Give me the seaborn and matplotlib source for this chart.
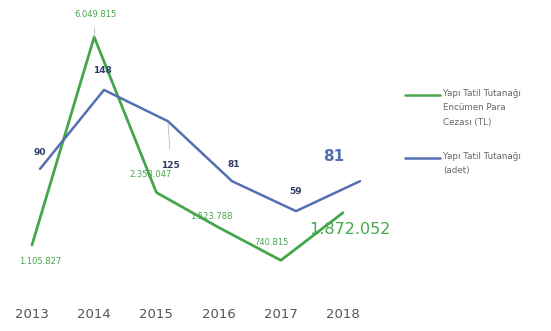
import matplotlib
matplotlib.use("Agg")
import matplotlib.pyplot as plt
from matplotlib.lines import Line2D
import seaborn as sns

# data
years = [2013, 2014, 2015, 2016, 2017, 2018]
fines_tl = [1105827, 6049815, 2353047, 1523788, 740815, 1872052]
fine_labels = ["1.105.827", "6.049.815", "2.353.047", "1.523.788", "740.815", "1.872.052"]
counts = [90, 148, 125, 81, 59, 81]
legend_fines = "Yapı Tatil Tutanağı\nEncümen Para\nCezası (TL)"
legend_counts = "Yapı Tatil Tutanağı\n(adet)"

green = "#46a64c"
blue = "#5470b0"
navy = "#2e3d63"

sns.set_style("white")
plt.rcParams["font.family"] = ["DejaVu Sans"]

W, H = 551, 331
fig = plt.figure(figsize=(W / 100, H / 100), dpi=100)

bottom = (H - 291.5) / H
height = 271.5 / H

# green series (TL)
ax = fig.add_axes([0, bottom, 1, height])
ax.patch.set_alpha(0)
sns.lineplot(x=years, y=fines_tl, ax=ax, color=green, linewidth=2)
ax.set_xlim(2013 - 32 / 62.2, 2013 + 519 / 62.2)
ax.set_ylim(0, 271.5 / 42.07 * 1e6)

# blue series (adet), drawn on its own axes
ax2 = fig.add_axes([0, bottom, 1, height])
ax2.patch.set_alpha(0)
sns.lineplot(x=years, y=counts, ax=ax2, color=blue, linewidth=1.8)
ax2.set_xlim(2013 - 40 / 64, 2013 + 511 / 64)
ax2.set_ylim(0, 271.5 / 1.362)

for a in (ax, ax2):
    sns.despine(ax=a, left=True, bottom=True, right=True, top=True)
    a.set_yticks([])
    a.set_xlabel("")
    a.set_ylabel("")
ax2.set_xticks([])

ax.set_xticks(years)
ax.set_xticklabels([str(y) for y in years], fontsize=9.5, color="#555555")
ax.tick_params(axis="x", length=0, pad=12)

# green labels (offsets in points)
g_off = [(6, -12), (1, 16), (-4, 13), (-5, 8), (-7, 13), (5, -12)]
for i, (x, y) in enumerate(zip(years, fines_tl)):
    big = i == len(years) - 1
    kw = {}
    if i == 1:
        kw["arrowprops"] = dict(arrowstyle="-", color="#bbbbbb", lw=0.6, shrinkA=4, shrinkB=0)
    ax.annotate(fine_labels[i], (x, y), xytext=g_off[i], textcoords="offset points",
                ha="center", va="center", color=green,
                fontsize=11.5 if big else 6, **kw)

# blue labels
b_off = [(0, 12), (-1, 14), (2, -32), (1, 12), (0, 14), (-19, 18)]
for i, (x, y) in enumerate(zip(years, counts)):
    big = i == len(years) - 1
    kw = {}
    if i == 2:
        kw["arrowprops"] = dict(arrowstyle="-", color="#bbbbbb", lw=0.6, shrinkA=6, shrinkB=1)
    ax2.annotate(str(y), (x, y), xytext=b_off[i], textcoords="offset points",
                 ha="center", va="center", fontweight="bold",
                 color=blue if big else navy, fontsize=11 if big else 6.5, **kw)

# legend on the right
for ypx, col, txt in [(95, green, legend_fines), (158, blue, legend_counts)]:
    fig.add_artist(Line2D([405 / W, 440 / W], [1 - ypx / H, 1 - ypx / H],
                          color=col, linewidth=1.8, transform=fig.transFigure))
    fig.text(443 / W, 1 - (ypx - 6) / H, txt, fontsize=6.3, color="#666666",
             va="top", ha="left", linespacing=1.75)

fig.savefig("out.png", dpi=100)
